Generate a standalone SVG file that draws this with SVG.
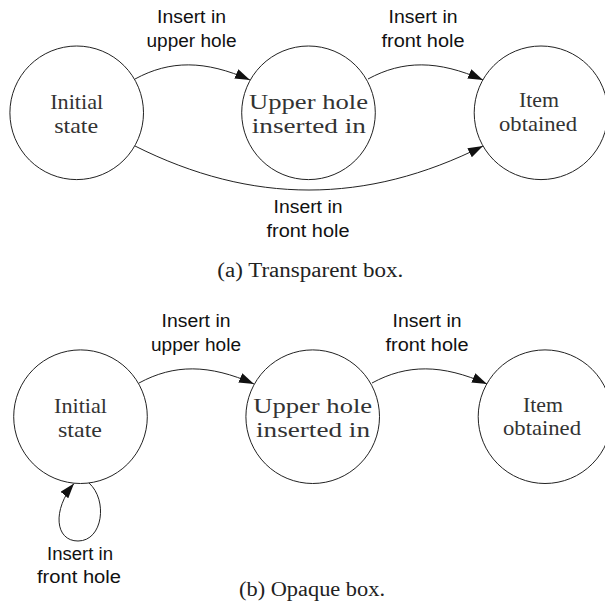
<svg xmlns="http://www.w3.org/2000/svg" width="605" height="606" viewBox="0 0 605 606">
<defs>
<style>
.node{fill:#fff;stroke:#222;stroke-width:1}
.edge{fill:none;stroke:#222;stroke-width:1;marker-end:url(#arr)}
.nt{font-family:"Liberation Serif","Times New Roman",serif;font-size:22px;fill:#333;text-anchor:middle}
.el{font-family:"Liberation Sans",Arial,sans-serif;font-size:18px;fill:#111;text-anchor:middle}
.cap{font-family:"Liberation Serif","Times New Roman",serif;font-size:20px;fill:#222;text-anchor:middle}
</style>
<marker id="arr" markerUnits="userSpaceOnUse" markerWidth="16" markerHeight="11" refX="15" refY="5" orient="auto">
<path d="M0,0 L15,5 L0,10 Z" fill="#111"/>
</marker>
</defs>
<rect width="605" height="606" fill="#fff"/>

<g id="connectors">
<path class="edge" d="M135,79 C170,60 205,60 250,80"/>
<path class="edge" d="M368,79 C403,60 438,60 483,80"/>
<path class="edge" d="M135,146 C252,204.7 366,204.7 483,146"/>
<path class="edge" d="M139,383 C174,364 209,364 254,384"/>
<path class="edge" d="M372,383 C407,364 442,364 487,384"/>
<path class="edge" d="M89,483 C108,500 103,541 78,541 C55,541 52,510 74,483.5"/>
</g>

<g id="edge-labels">
<text class="el" x="191.5" y="22.7" textLength="69" lengthAdjust="spacingAndGlyphs">Insert in</text>
<text class="el" x="191.5" y="46.5" textLength="90" lengthAdjust="spacingAndGlyphs">upper hole</text>
<text class="el" x="423" y="22.7" textLength="69" lengthAdjust="spacingAndGlyphs">Insert in</text>
<text class="el" x="423" y="46.5" textLength="83" lengthAdjust="spacingAndGlyphs">front hole</text>
<text class="el" x="308" y="213.3" textLength="69" lengthAdjust="spacingAndGlyphs">Insert in</text>
<text class="el" x="308" y="236.7" textLength="83" lengthAdjust="spacingAndGlyphs">front hole</text>
<text class="el" x="196" y="326.7" textLength="69" lengthAdjust="spacingAndGlyphs">Insert in</text>
<text class="el" x="196" y="350.5" textLength="90" lengthAdjust="spacingAndGlyphs">upper hole</text>
<text class="el" x="427" y="326.7" textLength="69" lengthAdjust="spacingAndGlyphs">Insert in</text>
<text class="el" x="427" y="350.5" textLength="83" lengthAdjust="spacingAndGlyphs">front hole</text>
<text class="el" x="80" y="560" textLength="66" lengthAdjust="spacingAndGlyphs">Insert in</text>
<text class="el" x="79" y="583" textLength="84" lengthAdjust="spacingAndGlyphs">front hole</text>
</g>

<g id="a-initial">
<circle class="node" cx="76.7" cy="112.8" r="66.8"/>
<text class="nt" x="76.7" y="108.5" textLength="53" lengthAdjust="spacingAndGlyphs">Initial</text>
<text class="nt" x="76.2" y="133" textLength="44" lengthAdjust="spacingAndGlyphs">state</text>
</g>
<g id="a-upper">
<circle class="node" cx="308.5" cy="112.8" r="66.8"/>
<text class="nt" x="308.5" y="108.5" textLength="119" lengthAdjust="spacingAndGlyphs">Upper hole</text>
<text class="nt" x="308.8" y="132.7" textLength="114" lengthAdjust="spacingAndGlyphs">inserted in</text>
</g>
<g id="a-item">
<circle class="node" cx="541" cy="112.8" r="66.8"/>
<text class="nt" x="539" y="107" textLength="40" lengthAdjust="spacingAndGlyphs">Item</text>
<text class="nt" x="538" y="131" textLength="78" lengthAdjust="spacingAndGlyphs">obtained</text>
</g>

<g id="b-initial">
<circle class="node" cx="80.5" cy="416.7" r="66.8"/>
<text class="nt" x="80.5" y="412.5" textLength="53" lengthAdjust="spacingAndGlyphs">Initial</text>
<text class="nt" x="80" y="437" textLength="44" lengthAdjust="spacingAndGlyphs">state</text>
</g>
<g id="b-upper">
<circle class="node" cx="312.7" cy="416.7" r="66.8"/>
<text class="nt" x="312.7" y="412.5" textLength="119" lengthAdjust="spacingAndGlyphs">Upper hole</text>
<text class="nt" x="313" y="436.7" textLength="114" lengthAdjust="spacingAndGlyphs">inserted in</text>
</g>
<g id="b-item">
<circle class="node" cx="545" cy="416.7" r="66.8"/>
<text class="nt" x="543" y="411.5" textLength="40" lengthAdjust="spacingAndGlyphs">Item</text>
<text class="nt" x="542" y="435.3" textLength="78" lengthAdjust="spacingAndGlyphs">obtained</text>
</g>

<g id="captions">
<text class="cap" x="310.3" y="276.7" textLength="186" lengthAdjust="spacingAndGlyphs">(a) Transparent box.</text>
<text class="cap" x="312" y="595.7" textLength="146" lengthAdjust="spacingAndGlyphs">(b) Opaque box.</text>
</g>
</svg>
